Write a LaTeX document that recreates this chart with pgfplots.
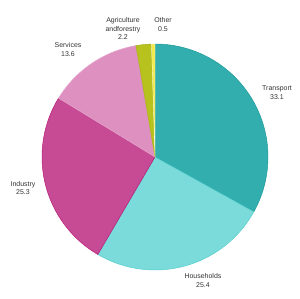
\documentclass[border=0pt]{standalone}
\usepackage{pgfplots}
\pgfplotsset{compat=1.18}
\usepackage{pgfplotstable}
\usepackage{fontspec}
\setmainfont{Liberation Sans}
\definecolor{cTr}{HTML}{33AEAE}
\definecolor{cTrD}{HTML}{1E9A9A}
\definecolor{cHo}{HTML}{7ADBDA}
\definecolor{cHoD}{HTML}{55CFCE}
\definecolor{cIn}{HTML}{C64B94}
\definecolor{cInD}{HTML}{B81C78}
\definecolor{cSe}{HTML}{DE90C0}
\definecolor{cSeD}{HTML}{E6A8CE}
\definecolor{cAg}{HTML}{B8C21E}
\definecolor{cAgD}{HTML}{A0AA10}
\definecolor{cOt}{HTML}{F2EA4A}
\definecolor{cOtD}{HTML}{E0D830}
\definecolor{txt}{HTML}{333333}
% shares (percent)
\pgfplotstableread{
label value
Transport 33.1
Households 25.4
Industry 25.3
Services 13.6
Agriculture 2.2
Other 0.5
}\shares
\tikzset{lab/.style={font=\fontsize{7}{8.5}\selectfont, text=txt, align=center, inner sep=0pt}}
\begin{document}%
\begin{tikzpicture}
\pgfplotstablegetelem{0}{value}\of\shares\let\vA\pgfplotsretval
\pgfplotstablegetelem{1}{value}\of\shares\let\vB\pgfplotsretval
\pgfplotstablegetelem{2}{value}\of\shares\let\vC\pgfplotsretval
\pgfplotstablegetelem{3}{value}\of\shares\let\vD\pgfplotsretval
\pgfplotstablegetelem{4}{value}\of\shares\let\vE\pgfplotsretval
\pgfplotstablegetelem{5}{value}\of\shares\let\vF\pgfplotsretval
\pgfmathsetmacro\tot{\vA+\vB+\vC+\vD+\vE+\vF}
\pgfmathsetmacro\aA{90}
\pgfmathsetmacro\aB{\aA-\vA*360/\tot}
\pgfmathsetmacro\aC{\aB-\vB*360/\tot}
\pgfmathsetmacro\aD{\aC-\vC*360/\tot}
\pgfmathsetmacro\aE{\aD-\vD*360/\tot}
\pgfmathsetmacro\aF{\aE-\vE*360/\tot}
\pgfmathsetmacro\aG{\aF-\vF*360/\tot}
\begin{axis}[
  scale only axis, width=300bp, height=299bp,
  xmin=0, xmax=300, ymin=0, ymax=299,
  hide axis, clip=false,
]
\addplot[fill=cTr, draw=cTrD, line width=0.5pt, domain=\aA:\aB, samples=80, variable=\t] ({155+113*cos(\t)},{142+113*sin(\t)}) -- (155,142) -- cycle;
\addplot[fill=cHo, draw=cHoD, line width=0.5pt, domain=\aB:\aC, samples=80, variable=\t] ({155+113*cos(\t)},{142+113*sin(\t)}) -- (155,142) -- cycle;
\addplot[fill=cIn, draw=cInD, line width=0.5pt, domain=\aC:\aD, samples=80, variable=\t] ({155+113*cos(\t)},{142+113*sin(\t)}) -- (155,142) -- cycle;
\addplot[fill=cSe, draw=cSeD, line width=0.5pt, domain=\aD:\aE, samples=60, variable=\t] ({155+113*cos(\t)},{142+113*sin(\t)}) -- (155,142) -- cycle;
\addplot[fill=cAg, draw=cAgD, line width=0.4pt, domain=\aE:\aF, samples=20, variable=\t] ({155+113*cos(\t)},{142+113*sin(\t)}) -- (155,142) -- cycle;
\addplot[fill=cOt, draw=white, line width=0.3pt, domain=\aF:\aG, samples=10, variable=\t] ({155+113*cos(\t)},{142+113*sin(\t)}) -- (155,142) -- cycle;
\node[lab] at (277,206.5) {Transport\\33.1};
\node[lab] at (203,18.5) {Households\\25.4};
\node[lab] at (23,111) {Industry\\25.3};
\node[lab] at (68,249.5) {Services\\13.6};
\node[lab] at (123,270.5) {Agriculture\\andforestry\\2.2};
\node[lab] at (163,274.5) {Other\\0.5};
\end{axis}
\pgfresetboundingbox
\path (current axis.south west) rectangle (current axis.north east);
\end{tikzpicture}%
\end{document}
